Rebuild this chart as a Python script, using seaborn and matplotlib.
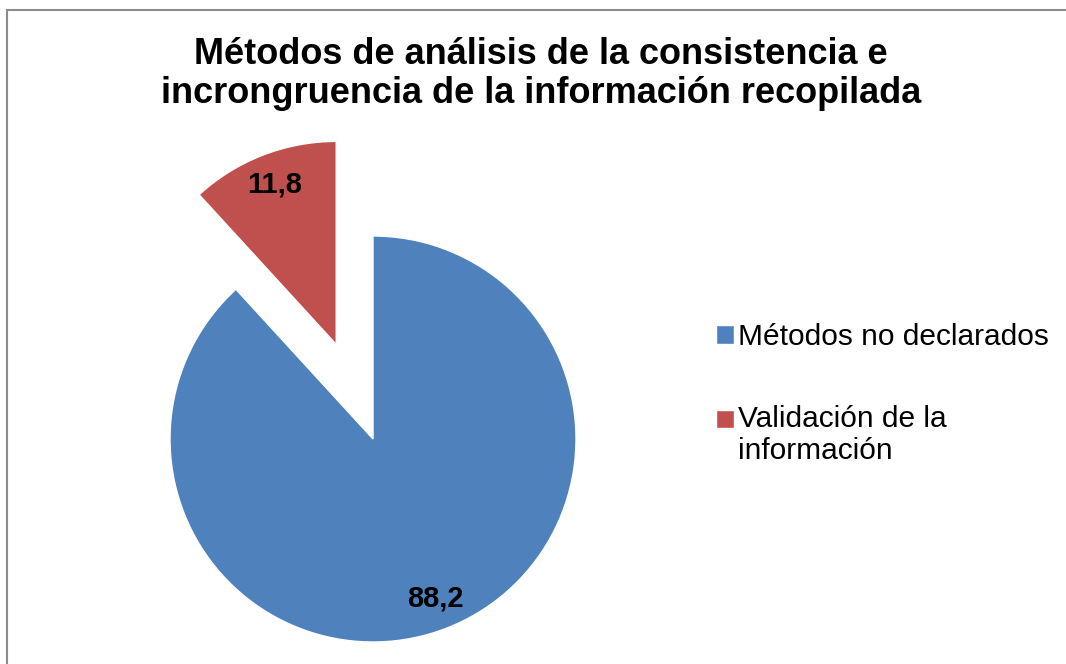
# PIE CHART: METODOS DE ANALISIS

import matplotlib
matplotlib.use("Agg")
import matplotlib.pyplot as plt
import matplotlib.patches as mpatches
from matplotlib.legend_handler import HandlerPatch
import seaborn as sns

# DATA

categories = ["Métodos no declarados", "Validación de la\ninformación"]
values = [88.2, 11.8]
colors = ["#4F81BD", "#C0504D"]
title = "Métodos de análisis de la consistencia e\nincrongruencia de la información recopilada"

sns.set_theme(style="white")
plt.rcParams['font.family'] = ['Liberation Sans', 'DejaVu Sans']
plt.rcParams['text.color'] = 'black'

W, H = 1066, 664
fig = plt.figure(figsize=(W / 100, H / 100), dpi=100)
ax = fig.add_axes([0, 0, 1, 1])

wedges, texts, autotexts = ax.pie(
    values,
    colors=colors,
    startangle=90,
    counterclock=False,
    explode=[0, 0.5],
    autopct=lambda p: f"{p:.1f}".replace(".", ","),
    pctdistance=0.845,
    textprops=dict(fontsize=21, fontweight="bold", color="black"),
)

# place pie: center (373, 439) px, radius 203 px
cx, cy, r = 373, 439, 203
ax.set_xlim(-cx / r, (W - cx) / r)
ax.set_ylim(-(H - cy) / r, cy / r)
ax.set_aspect("auto")
ax.axis("off")

# title
fig.text(541 / W, 1 - 74 / H, title, ha="center", va="center",
         fontsize=26, fontweight="bold", linespacing=1.15, color="black")


# legend square sits on the first text line (multi-line labels)
def square(legend, orig_handle, xdescent, ydescent, width, height, fontsize):
    shift = 0.0
    if orig_handle is wedges[1]:
        shift = 0.55 * fontsize
    return mpatches.Rectangle((-xdescent, -ydescent + shift), width, height)


leg = fig.legend(wedges, categories, loc="upper left",
                 bbox_to_anchor=(716 / W, 1 - 323 / H),
                 frameon=False, fontsize=21.5, borderaxespad=0,
                 handlelength=0.6, handleheight=0.6,
                 handletextpad=0.15, labelspacing=1.8, borderpad=0,
                 handler_map={mpatches.Wedge: HandlerPatch(patch_func=square)})

# outer border
border = mpatches.Rectangle((7 / W, -0.05), 1.2, 1.05 - 10 / H,
                            transform=fig.transFigure, fill=False,
                            edgecolor="#8c8c8c", linewidth=1.5)
fig.patches.append(border)

fig.savefig("out.png", dpi=100)
